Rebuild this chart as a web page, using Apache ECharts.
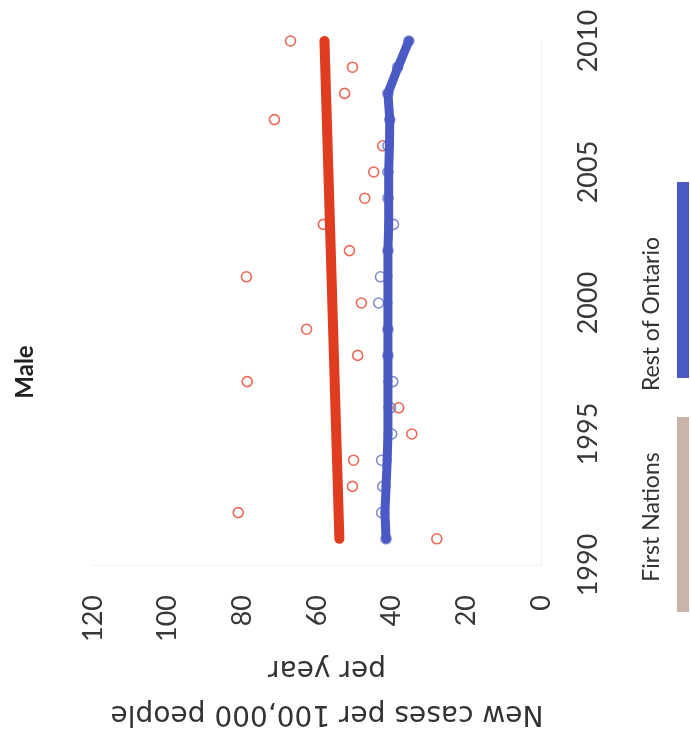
<!DOCTYPE html>
<html>
<head>
<meta charset="utf-8">
<script src="https://cdn.jsdelivr.net/npm/echarts@6/dist/echarts.min.js"></script>
<style>
html,body{margin:0;padding:0;background:#fff;}
#chart{width:691px;height:737px;}
</style>
</head>
<body>
<div id="chart"></div>
<script>
const years = [1991,1992,1993,1994,1995,1996,1997,1998,1999,2000,2001,2002,2003,2004,2005,2006,2007,2008,2009,2010];
const firstNationsObserved = [27.9,81.1,50.5,50.2,34.6,38.1,78.7,49.1,62.8,48.1,78.9,51.3,58.3,47.2,44.8,42.4,71.4,52.6,50.5,67.1];
const restOntarioObserved = [41.5,42.7,42.4,42.7,40.0,40.3,39.7,41.0,41.0,43.5,43.0,41.0,39.5,41.0,41.0,41.0,40.5,41.0,38.4,35.4];
const restOntarioLine = [41.5,41.8,41.5,41.2,41.0,41.0,41.0,41.0,41.0,41.0,41.0,41.0,40.8,40.8,40.8,40.6,40.5,41.0,38.3,35.4];
const firstNationsTrendYears = [1991,2010];
const firstNationsTrend = [54.0,58.0];
const valueTicks = {min:0,max:120,step:20};
const yearTicks = {min:1990,max:2010,step:5};
const titleText = 'Male';
const axisTitle = ['New cases per 100,000 people','per year'];
const legendNames = ['First Nations','Rest of Ontario'];

const pair = (ys, vs) => ys.map((y,i)=>[vs[i], y]);

const chart = echarts.init(document.getElementById('chart'), null, {renderer:'canvas'});
const tickFont = {fontFamily:'Lato', fontSize:27, color:'#383838'};
chart.setOption({
  animation:false,
  backgroundColor:'#ffffff',
  grid:{left:93,right:150,top:41,bottom:172,containLabel:false},
  xAxis:{
    type:'value', inverse:true, position:'bottom',
    min:valueTicks.min, max:valueTicks.max, interval:valueTicks.step,
    axisLine:{show:true,lineStyle:{color:'#f1f1f1',width:1}},
    axisTick:{show:false},
    splitLine:{show:false},
    axisLabel:Object.assign({rotate:90, margin:30, formatter:v=>String(v)}, tickFont)
  },
  yAxis:{
    type:'value', position:'right',
    min:yearTicks.min, max:yearTicks.max, interval:yearTicks.step,
    axisLine:{show:true,onZero:false,lineStyle:{color:'#f1f1f1',width:1}},
    axisTick:{show:false},
    splitLine:{show:false},
    axisLabel:Object.assign({rotate:90, margin:34, formatter:v=>String(v)}, tickFont)
  },
  series:[
    {
      name:'First Nations observed', type:'scatter', z:1,
      data:pair(years, firstNationsObserved),
      symbol:'circle', symbolSize:10,
      itemStyle:{color:'rgba(0,0,0,0)', borderColor:'#e8442c', borderWidth:1.6}
    },
    {
      name:'Rest of Ontario observed', type:'scatter', z:1,
      data:pair(years, restOntarioObserved),
      symbol:'circle', symbolSize:10,
      itemStyle:{color:'rgba(0,0,0,0)', borderColor:'#6472c4', borderWidth:1.6}
    },
    {
      name:'First Nations trend', type:'line', z:3,
      data:pair(firstNationsTrendYears, firstNationsTrend),
      showSymbol:false,
      lineStyle:{color:'#df3c20', width:10, cap:'round'}
    },
    {
      name:'Rest of Ontario', type:'line', z:3,
      data:pair(years, restOntarioLine),
      symbol:'circle', symbolSize:9, showSymbol:true,
      itemStyle:{color:'#4a59c4'},
      lineStyle:{color:'#4a59c4', width:9, cap:'round', join:'round'}
    }
  ],
  graphic:[
    {type:'text', x:25, y:372, rotation:Math.PI/2,
     style:{text:titleText, font:'bold 24px Lato', fill:'#222', textAlign:'center', textVerticalAlign:'middle'}},
    {type:'text', x:327, y:668, rotation:Math.PI,
     style:{text:axisTitle[1], font:'28px "DejaVu Sans"', fill:'#333', textAlign:'center', textVerticalAlign:'middle'}},
    {type:'text', x:327, y:713, rotation:Math.PI,
     style:{text:axisTitle[0], font:'28px "DejaVu Sans"', fill:'#333', textAlign:'center', textVerticalAlign:'middle'}},
    {type:'text', x:652, y:517, rotation:Math.PI/2,
     style:{text:legendNames[0], font:'23px Lato', fill:'#333', textAlign:'center', textVerticalAlign:'middle'}},
    {type:'text', x:652, y:314, rotation:Math.PI/2,
     style:{text:legendNames[1], font:'23px Lato', fill:'#333', textAlign:'center', textVerticalAlign:'middle'}},
    {type:'rect', shape:{x:677,y:417,width:12,height:195}, style:{fill:'#c9b4a9'}},
    {type:'rect', shape:{x:677,y:182,width:12,height:196}, style:{fill:'#4a5cc4'}}
  ]
});
</script>
</body>
</html>
